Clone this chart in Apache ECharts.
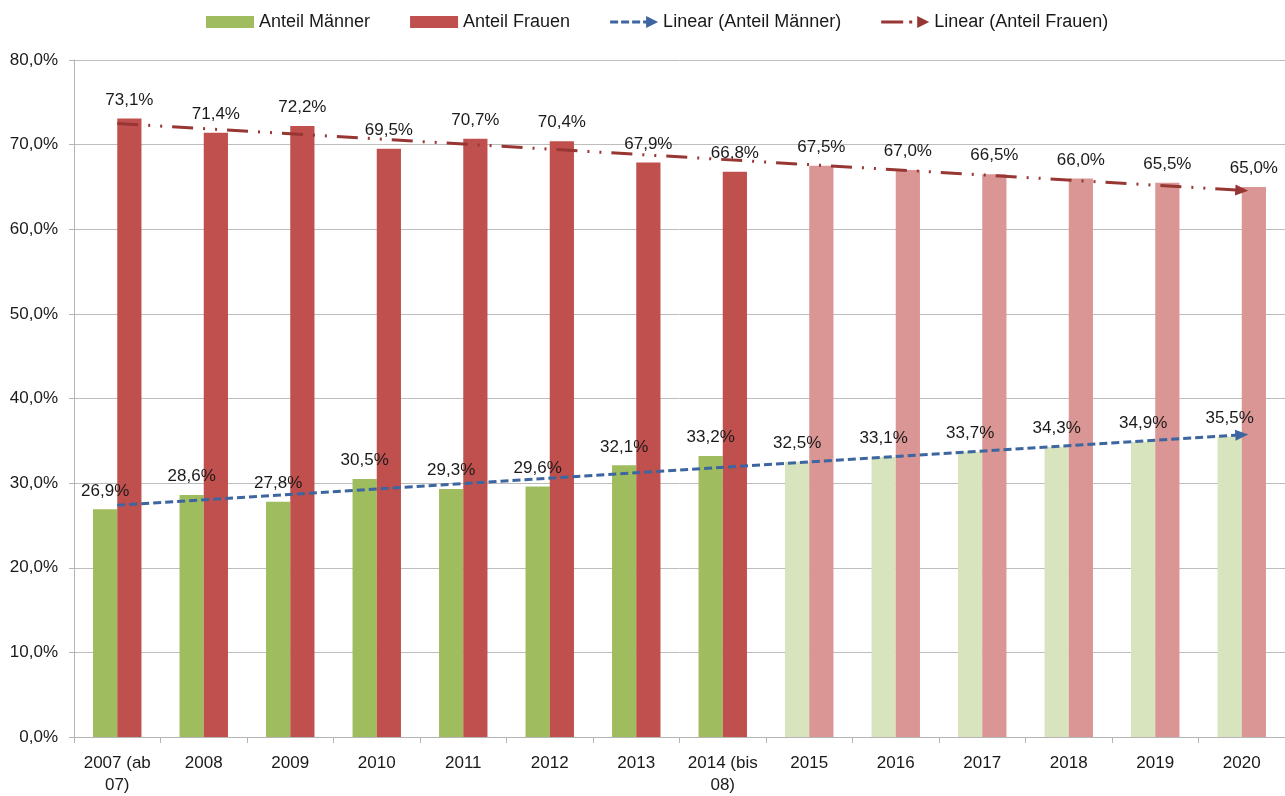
<!DOCTYPE html>
<html>
<head>
<meta charset="utf-8">
<script src="https://cdn.jsdelivr.net/npm/echarts@6/dist/echarts.min.js"></script>
<style>
  html, body { margin: 0; padding: 0; background: #fff; }
  #main { width: 1285px; height: 796px; }
</style>
</head>
<body>
<div id="main"></div>
<script>
var categories = ["2007 (ab\n07)", "2008", "2009", "2010", "2011", "2012", "2013",
  "2014 (bis\n08)", "2015", "2016", "2017", "2018", "2019", "2020"];
var anteilMaenner = [26.9, 28.6, 27.8, 30.5, 29.3, 29.6, 32.1, 33.2, 32.5, 33.1, 33.7, 34.3, 34.9, 35.5];
var anteilFrauen = [73.1, 71.4, 72.2, 69.5, 70.7, 70.4, 67.9, 66.8, 67.5, 67.0, 66.5, 66.0, 65.5, 65.0];
// trend lines: value at first and last category
var trendMaenner = [27.4, 35.7];
var trendFrauen = [72.5, 64.6];
// first category that is a forecast (drawn lighter)
var forecastFrom = 8;

var greenDark = "#9FBD5E";
var greenLight = "#D7E4BD";
var redDark = "#C0504D";
var redLight = "#DA9694";
var blueTrend = "#3D65A0";
var redTrend = "#973633";
var font = "Liberation Sans";

function pct(v) {
  return v.toFixed(1).replace(".", ",") + "%";
}

var chartDom = document.getElementById("main");
var myChart = echarts.init(chartDom);
var last = categories.length - 1;

var option = {
  animation: false,
  textStyle: { fontFamily: font, color: "#1a1a1a" },
  legend: {
    top: 8,
    left: 201,
    itemWidth: 48,
    itemHeight: 12,
    itemGap: 40,
    textStyle: { fontFamily: font, fontSize: 18, color: "#1a1a1a" },
    data: [
      { name: "Anteil Männer", icon: "rect" },
      { name: "Anteil Frauen", icon: "rect" },
      {
        name: "Linear (Anteil Männer)",
        icon: "path://M0,4.5h8v3h-8z M11,4.5h8v3h-8z M22,4.5h8v3h-8z M33,4.5h4v3h-4z M36,0L48,6L36,12z",
        itemStyle: { color: blueTrend, borderWidth: 0 }
      },
      {
        name: "Linear (Anteil Frauen)",
        icon: "path://M0,4.5h22v3h-22z M28,4.5h3v3h-3z M36,0L48,6L36,12z",
        itemStyle: { color: redTrend, borderWidth: 0 }
      }
    ]
  },
  grid: { left: 74, right: -3, top: 60, bottom: 58 },
  xAxis: {
    type: "category",
    data: categories,
    axisLine: { lineStyle: { color: "#B5B5B5", width: 1 } },
    axisTick: { show: true, length: 6, lineStyle: { color: "#B5B5B5" } },
    axisLabel: {
      margin: 15,
      fontFamily: font,
      fontSize: 17,
      lineHeight: 22,
      color: "#1a1a1a",
      interval: 0
    }
  },
  yAxis: {
    type: "value",
    min: 0,
    max: 80,
    interval: 10,
    axisLine: { show: true, lineStyle: { color: "#B5B5B5", width: 1 } },
    axisTick: { show: true, length: 5, lineStyle: { color: "#B5B5B5" } },
    splitLine: { lineStyle: { color: "#BDBDBD", width: 1 } },
    axisLabel: {
      margin: 16,
      fontFamily: font,
      fontSize: 17,
      color: "#1a1a1a",
      formatter: function (v) { return pct(v); }
    }
  },
  series: [
    {
      name: "Anteil Männer",
      type: "bar",
      data: anteilMaenner,
      barGap: "0%",
      barCategoryGap: "44%",
      color: greenDark,
      itemStyle: {
        color: function (p) { return p.dataIndex >= forecastFrom ? greenLight : greenDark; }
      },
      label: {
        show: true,
        position: "top",
        distance: 10,
        fontFamily: font,
        fontSize: 17,
        color: "#1a1a1a",
        formatter: function (p) { return pct(p.value); }
      },
      z: 2
    },
    {
      name: "Anteil Frauen",
      type: "bar",
      data: anteilFrauen,
      barGap: "0%",
      barCategoryGap: "44%",
      color: redDark,
      itemStyle: {
        color: function (p) { return p.dataIndex >= forecastFrom ? redLight : redDark; }
      },
      label: {
        show: true,
        position: "top",
        distance: 10,
        fontFamily: font,
        fontSize: 17,
        color: "#1a1a1a",
        formatter: function (p) { return pct(p.value); }
      },
      z: 2
    },
    {
      name: "Linear (Anteil Männer)",
      type: "line",
      data: [],
      color: blueTrend,
      z: 5,
      markLine: {
        silent: true,
        symbol: ["none", "triangle"],
        symbolSize: [11, 13],
        label: { show: false },
        lineStyle: { color: blueTrend, width: 3, type: [8, 4] },
        data: [[
          { coord: [0, trendMaenner[0]] },
          { coord: [last, trendMaenner[1]] }
        ]]
      }
    },
    {
      name: "Linear (Anteil Frauen)",
      type: "line",
      data: [],
      color: redTrend,
      z: 5,
      markLine: {
        silent: true,
        symbol: ["none", "triangle"],
        symbolSize: [11, 13],
        label: { show: false },
        lineStyle: { color: redTrend, width: 3, type: [21, 10, 2, 10, 2, 10] },
        data: [[
          { coord: [0, trendFrauen[0]] },
          { coord: [last, trendFrauen[1]] }
        ]]
      }
    }
  ]
};

myChart.setOption(option);
</script>
</body>
</html>
